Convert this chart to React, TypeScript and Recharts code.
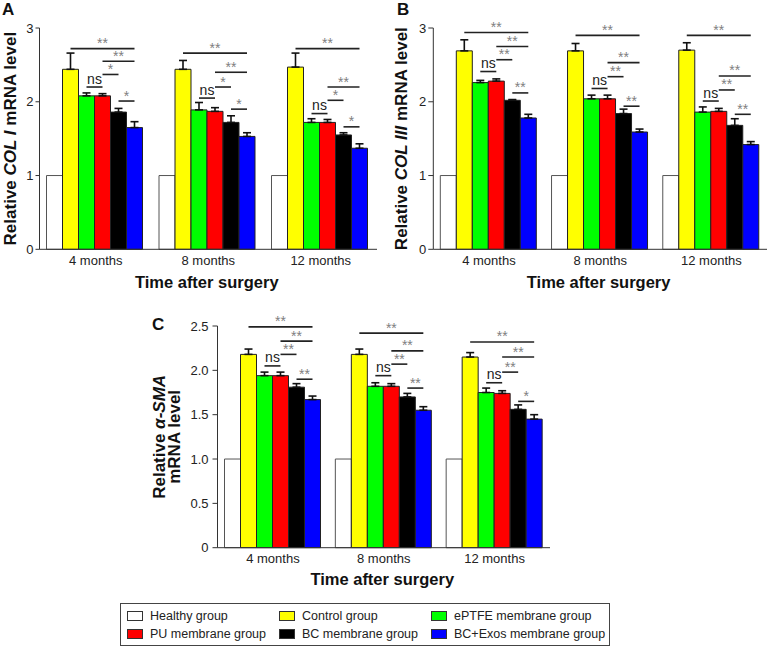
import React from "react";
import { BarChart, Bar, XAxis, YAxis, ErrorBar } from "recharts";

const FONT = '"Liberation Sans", Arial, sans-serif';

const TIMES = ["4 months", "8 months", "12 months"];
const GROUPS = [
  "Healthy group",
  "Control group",
  "ePTFE membrane group",
  "PU membrane group",
  "BC membrane group",
  "BC+Exos membrane group",
];
const KEYS = ["healthy", "control", "eptfe", "pu", "bc", "exos"];
const FILLS = ["#ffffff", "#ffff00", "#00ff00", "#ff0000", "#000000", "#0000ff"];

// one row per group, one value per time point
const COL1_MEAN = [
  [1, 1, 1],
  [2.44, 2.44, 2.47],
  [2.08, 1.89, 1.72],
  [2.08, 1.87, 1.72],
  [1.86, 1.72, 1.55],
  [1.65, 1.53, 1.37],
];
const COL1_SD = [
  [0, 0, 0],
  [0.22, 0.12, 0.19],
  [0.04, 0.1, 0.05],
  [0.03, 0.05, 0.04],
  [0.05, 0.09, 0.03],
  [0.08, 0.05, 0.06],
];
const COL3_MEAN = [
  [1, 1, 1],
  [2.69, 2.69, 2.7],
  [2.26, 2.04, 1.86],
  [2.28, 2.04, 1.87],
  [2.02, 1.84, 1.68],
  [1.78, 1.59, 1.42],
];
const COL3_SD = [
  [0, 0, 0],
  [0.15, 0.1, 0.1],
  [0.03, 0.05, 0.07],
  [0.03, 0.05, 0.04],
  [0.01, 0.06, 0.09],
  [0.05, 0.04, 0.04],
];
const SMA_MEAN = [
  [1, 1, 1],
  [2.18, 2.18, 2.15],
  [1.94, 1.82, 1.75],
  [1.94, 1.82, 1.74],
  [1.81, 1.7, 1.56],
  [1.67, 1.55, 1.45],
];
const SMA_SD = [
  [0, 0, 0],
  [0.06, 0.06, 0.05],
  [0.04, 0.04, 0.05],
  [0.04, 0.03, 0.03],
  [0.04, 0.04, 0.05],
  [0.04, 0.04, 0.05],
];

// significance bars per time point: [from group, to group, height, text]
type Sig = [number, number, number, string];
const COL1_SIG: Sig[][] = [
  [[1, 5, 2.72, "**"], [3, 5, 2.55, "**"], [3, 4, 2.37, "*"], [2, 3, 2.2, "ns"], [4, 5, 2.01, "*"]],
  [[1, 5, 2.66, "**"], [3, 5, 2.4, "**"], [3, 4, 2.2, "*"], [2, 3, 2.05, "ns"], [4, 5, 1.9, "*"]],
  [[1, 5, 2.72, "**"], [3, 5, 2.2, "**"], [3, 4, 2.02, "*"], [2, 3, 1.84, "ns"], [4, 5, 1.66, "*"]],
];
const COL3_SIG: Sig[][] = [
  [[1, 5, 2.94, "**"], [3, 5, 2.75, "**"], [3, 4, 2.57, "**"], [2, 3, 2.41, "ns"], [4, 5, 2.12, "**"]],
  [[1, 5, 2.9, "**"], [3, 5, 2.53, "**"], [3, 4, 2.34, "**"], [2, 3, 2.18, "ns"], [4, 5, 1.94, "**"]],
  [[1, 5, 2.9, "**"], [3, 5, 2.35, "**"], [3, 4, 2.16, "**"], [2, 3, 2.01, "ns"], [4, 5, 1.83, "**"]],
];
const SMA_SIG: Sig[][] = [
  [[1, 5, 2.49, "**"], [3, 5, 2.33, "**"], [3, 4, 2.18, "**"], [2, 3, 2.05, "ns"], [4, 5, 1.9, "**"]],
  [[1, 5, 2.42, "**"], [3, 5, 2.22, "**"], [3, 4, 2.07, "**"], [2, 3, 1.94, "ns"], [4, 5, 1.8, "**"]],
  [[1, 5, 2.32, "**"], [3, 5, 2.15, "**"], [3, 4, 1.98, "**"], [2, 3, 1.86, "ns"], [4, 5, 1.65, "*"]],
];

const COL_TICKS = [0, 1, 2, 3];
const SMA_TICKS = [0, 0.5, 1, 1.5, 2, 2.5];

type Seg = [string, boolean];

function buildRows(mean: number[][], sd: number[][]) {
  return TIMES.map((t, i) => {
    // eslint-disable-next-line @typescript-eslint/no-explicit-any
    const row: Record<string, any> = { time: t };
    KEYS.forEach((k, g) => {
      row[k] = mean[g][i];
      row[k + "Err"] = [0, sd[g][i]];
    });
    return row;
  });
}

// drawn from the last bar of each group so the lines sit on top of everything
const makeBrackets = (sig: Sig[][]) => (props: any) => {
  const vb = props.viewBox ?? props;
  const { x, y, width, height } = vb;
  const value = Number(props.value);
  const list = sig[props.index];
  if (!list || !value) return null;
  const base = y + height;
  const perUnit = height / value;
  const last = KEYS.length - 1;
  const cx = (g: number) => x - (last - g) * width + width / 2;
  return (
    <g>
      {list.map(([a, b, v, txt], j) => {
        const ly = base - v * perUnit;
        const x1 = cx(a);
        const x2 = cx(b);
        const ns = txt === "ns";
        return (
          <g key={j}>
            <line x1={x1} x2={x2} y1={ly} y2={ly} stroke="#222" strokeWidth={1.6} />
            <text
              x={(x1 + x2) / 2}
              y={ly - (ns ? 3.5 : 0.5)}
              textAnchor="middle"
              fontSize={14}
              fontFamily={FONT}
              fill={ns ? "#222" : "#808080"}
            >
              {txt}
            </text>
          </g>
        );
      })}
    </g>
  );
};

const yTitle = (lines: Seg[][], bx: number, lineGap: number) => (props: any) => {
  const vb = props.viewBox;
  const cy = vb.y + vb.height / 2;
  return (
    <text
      transform={`rotate(-90, ${bx}, ${cy})`}
      x={bx}
      y={cy}
      textAnchor="middle"
      fontSize={17}
      fontWeight="bold"
      fontFamily={FONT}
      fill="#111"
      style={{ whiteSpace: "pre" }}
    >
      {lines.map((segs, li) => (
        <tspan key={li} x={bx} dy={li === 0 ? 0 : lineGap}>
          {segs.map(([s, it], si) => (
            <tspan key={si} fontStyle={it ? "italic" : "normal"}>
              {s}
            </tspan>
          ))}
        </tspan>
      ))}
    </text>
  );
};

const xTitle = (dy: number) => (props: any) => {
  const vb = props.viewBox;
  return (
    <text
      x={vb.x + vb.width / 2 - 1.5}
      y={vb.y + dy}
      textAnchor="middle"
      fontSize={16.5}
      fontWeight="bold"
      fontFamily={FONT}
      fill="#111"
    >
      Time after surgery
    </text>
  );
};

interface PanelProps {
  left: number;
  top: number;
  width: number;
  height: number;
  margin: { top: number; right: number; bottom: number; left: number };
  yWidth: number;
  ticks: number[];
  tickFmt: (v: number) => string;
  mean: number[][];
  sd: number[][];
  sig: Sig[][];
  title: Seg[][];
  titleX: number;
  titleGap: number;
  xTitleDy: number;
  tickSize: number;
  tickMargin: number;
}

function Panel(p: PanelProps) {
  const rows = buildRows(p.mean, p.sd);
  return (
    <div style={{ position: "absolute", left: p.left, top: p.top }}>
      <BarChart
        width={p.width}
        height={p.height}
        data={rows}
        margin={p.margin}
        barGap={0}
        barCategoryGap={7}
        style={{ fontFamily: FONT }}
      >
        <XAxis
          dataKey="time"
          interval={0}
          tickLine={false}
          tickSize={0}
          tickMargin={6}
          height={30}
          stroke="#333"
          tick={{ fontSize: 13, fill: "#222" }}
          label={{ content: xTitle(p.xTitleDy) }}
        />
        <YAxis
          type="number"
          domain={[p.ticks[0], p.ticks[p.ticks.length - 1]]}
          ticks={p.ticks}
          interval={0}
          width={p.yWidth}
          tickSize={p.tickSize}
          tickMargin={p.tickMargin}
          tickFormatter={p.tickFmt}
          stroke="#333"
          tick={{ fontSize: 13, fill: "#222" }}
          label={{ content: yTitle(p.title, p.titleX, p.titleGap) }}
        />
        {KEYS.map((k, g) => (
          <Bar
            key={k}
            dataKey={k}
            fill={FILLS[g]}
            stroke={g === 0 ? "#555" : "#222"}
            strokeWidth={1}
            isAnimationActive={false}
            label={g === KEYS.length - 1 ? makeBrackets(p.sig) : undefined}
          >
            {g > 0 && (
              <ErrorBar
                dataKey={k + "Err"}
                direction="y"
                width={4}
                strokeWidth={1.6}
                stroke="#111"
                isAnimationActive={false}
              />
            )}
          </Bar>
        ))}
      </BarChart>
    </div>
  );
}

function Legend() {
  return (
    <div
      style={{
        position: "absolute",
        left: 120,
        top: 603,
        width: 490,
        height: 43,
        boxSizing: "border-box",
        border: "1px solid #444",
        padding: "3px 0 0 6px",
        display: "grid",
        gridTemplateColumns: "152px 152px 152px",
        gridAutoRows: "18px",
        fontFamily: FONT,
        fontSize: 12.5,
        color: "#222",
      }}
    >
      {GROUPS.map((name, g) => (
        <div
          key={name}
          style={{ display: "flex", alignItems: "center", whiteSpace: "nowrap" }}
        >
          <span
            style={{
              display: "inline-block",
              flex: "none",
              width: 16,
              height: 10,
              boxSizing: "border-box",
              border: "1px solid #333",
              background: FILLS[g],
              marginRight: 7,
            }}
          />
          {name}
        </div>
      ))}
    </div>
  );
}

export default function App() {
  const oneDec = (v: number) => (v === 0 ? "0" : v.toFixed(1));
  const plain = (v: number) => String(v);
  return (
    <div
      style={{
        position: "absolute",
        left: 0,
        top: 0,
        width: 767,
        height: 647,
        background: "#fff",
        overflow: "hidden",
      }}
    >
      <Panel
        left={0}
        top={0}
        width={385}
        height={300}
        margin={{ top: 28, right: 8, bottom: 20.7, left: 0 }}
        yWidth={39.5}
        ticks={COL_TICKS}
        tickFmt={plain}
        mean={COL1_MEAN}
        sd={COL1_SD}
        sig={COL1_SIG}
        title={[[["Relative ", false], ["COL I", true], [" mRNA level", false]]]}
        titleX={16}
        titleGap={0}
        xTitleDy={38.5}
        tickSize={4}
        tickMargin={2}
      />
      <Panel
        left={380}
        top={0}
        width={387}
        height={300}
        margin={{ top: 28, right: 0, bottom: 20.7, left: 0 }}
        yWidth={53.3}
        ticks={COL_TICKS}
        tickFmt={plain}
        mean={COL3_MEAN}
        sd={COL3_SD}
        sig={COL3_SIG}
        title={[[["Relative ", false], ["COL III", true], [" mRNA level", false]]]}
        titleX={27}
        titleGap={0}
        xTitleDy={38.5}
        tickSize={5}
        tickMargin={2}
      />
      <Panel
        left={150}
        top={300}
        width={410}
        height={300}
        margin={{ top: 26, right: 10, bottom: 22.3, left: 0 }}
        yWidth={67.5}
        ticks={SMA_TICKS}
        tickFmt={oneDec}
        mean={SMA_MEAN}
        sd={SMA_SD}
        sig={SMA_SIG}
        title={[[["Relative ", false], ["α-SMA", true]], [["mRNA level", false]]]}
        titleX={15}
        titleGap={15.5}
        xTitleDy={37}
        tickSize={5}
        tickMargin={4}
      />
      <svg
        width={767}
        height={647}
        style={{ position: "absolute", left: 0, top: 0, pointerEvents: "none" }}
      >
        <g fontFamily={FONT} fontWeight="bold" fontSize={17} fill="#111">
          <text x={2} y={15}>A</text>
          <text x={397} y={15}>B</text>
          <text x={152} y={330}>C</text>
        </g>
      </svg>
      <Legend />
    </div>
  );
}
